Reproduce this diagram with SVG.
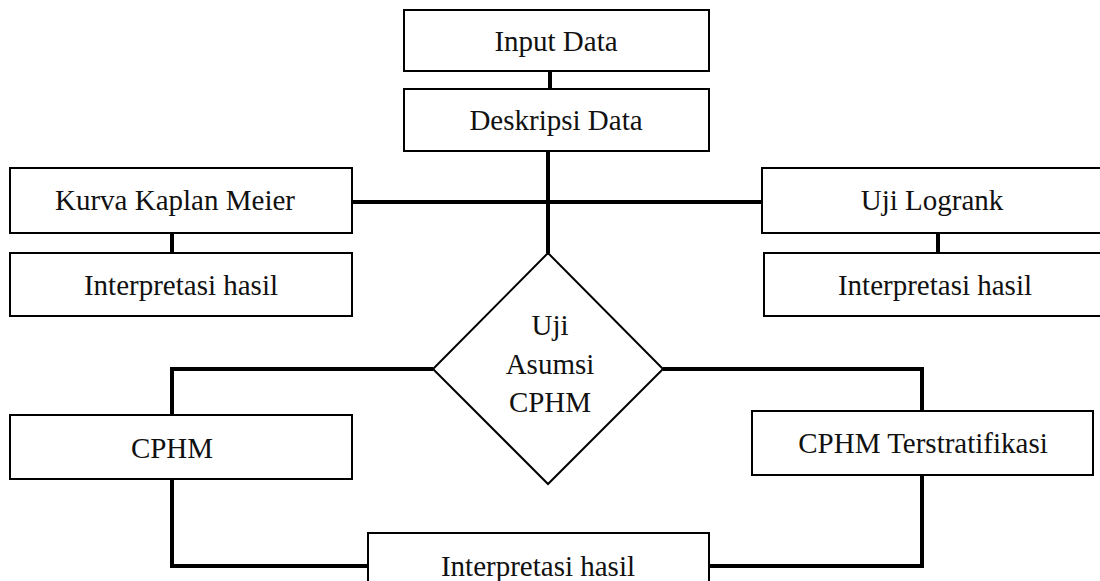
<svg xmlns="http://www.w3.org/2000/svg" width="1100" height="581" viewBox="0 0 1100 581">
<style>
.box{fill:#fff;stroke:#000;stroke-width:2}
.lbl{font-family:"Liberation Serif","Times New Roman",serif;font-size:29px;fill:#111;text-anchor:middle}
.con{fill:none;stroke:#000;stroke-width:4;stroke-linejoin:miter}
</style>
<rect width="1100" height="581" fill="#fff"/>
<g id="connectors">
<path class="con" d="M550,71 V89"/>
<path class="con" d="M548,151 V253"/>
<path class="con" d="M352,202 H762"/>
<path class="con" d="M172,233 V253"/>
<path class="con" d="M938,233 V253"/>
<path class="con" d="M433,369 H172 V415"/>
<path class="con" d="M663,369 H922 V411"/>
<path class="con" d="M172,479 V566 H368"/>
<path class="con" d="M922,475 V566 H709"/>
</g>
<g id="input-data"><rect class="box" x="404" y="10" width="305" height="61"/><text class="lbl" x="556" y="51">Input Data</text></g>
<g id="deskripsi-data"><rect class="box" x="404" y="89" width="305" height="62"/><text class="lbl" x="556" y="130">Deskripsi Data</text></g>
<g id="kurva-kaplan-meier"><rect class="box" x="10" y="168" width="342" height="65"/><text class="lbl" x="175" y="210">Kurva Kaplan Meier</text></g>
<g id="interpretasi-kiri"><rect class="box" x="10" y="253" width="342" height="63"/><text class="lbl" x="181" y="295">Interpretasi hasil</text></g>
<g id="uji-logrank"><rect class="box" x="762" y="168" width="345" height="65"/><text class="lbl" x="932" y="210">Uji Logrank</text></g>
<g id="interpretasi-kanan"><rect class="box" x="764" y="253" width="345" height="63"/><text class="lbl" x="935" y="295">Interpretasi hasil</text></g>
<g id="uji-asumsi"><polygon class="box" points="548,253 663,369 548,484 433,369"/><text class="lbl" x="550" y="335">Uji</text><text class="lbl" x="550" y="374">Asumsi</text><text class="lbl" x="550" y="412">CPHM</text></g>
<g id="cphm"><rect class="box" x="10" y="415" width="342" height="64"/><text class="lbl" x="172" y="458">CPHM</text></g>
<g id="cphm-terstratifikasi"><rect class="box" x="752" y="411" width="341" height="64"/><text class="lbl" x="923" y="453">CPHM Terstratifikasi</text></g>
<g id="interpretasi-bawah"><rect class="box" x="368" y="533" width="341" height="60"/><text class="lbl" x="538" y="576">Interpretasi hasil</text></g>
</svg>
